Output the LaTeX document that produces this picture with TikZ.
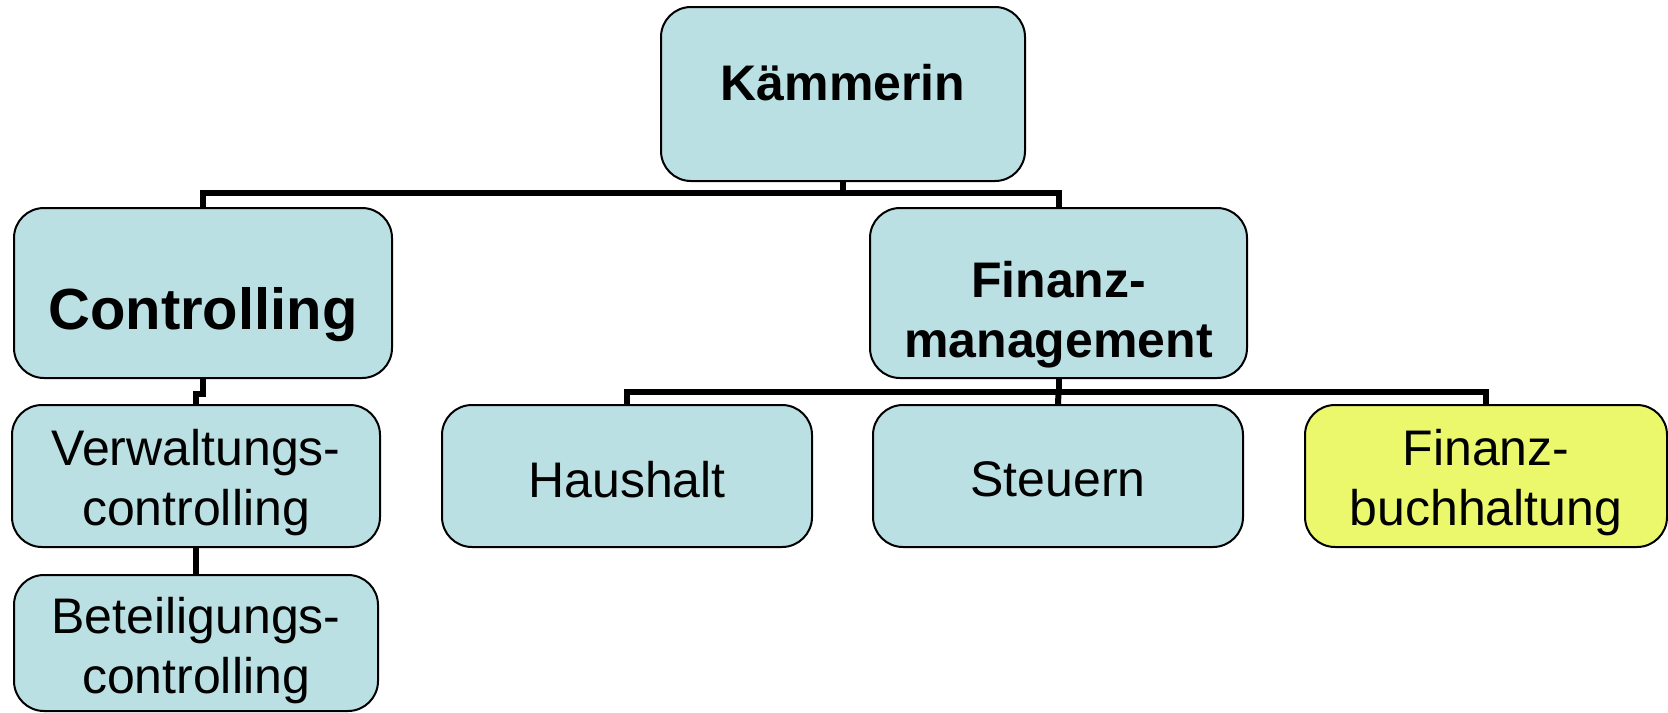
\documentclass[tikz,border=0pt]{standalone}
\usepackage{fontspec}
\setmainfont{Liberation Sans}
\definecolor{boxblue}{HTML}{BBE0E3}
\definecolor{boxyellow}{HTML}{ECF86C}
\tikzset{
  orgbox/.style={draw=black, line width=1pt, rounded corners=15pt, fill=boxblue, inner sep=0pt},
  hibox/.style={orgbox, fill=boxyellow},
  lbl/.style={inner sep=0pt, anchor=base, align=center, font=\fontsize{25pt}{30pt}\selectfont},
  lblb/.style={lbl, font=\fontsize{25pt}{30pt}\selectfont\bfseries},
  lblbig/.style={lbl, font=\fontsize{29pt}{35pt}\selectfont\bfseries},
  conn/.style={draw=black, line width=3pt}
}
\begin{document}
\begin{tikzpicture}[x=0.5pt, y=-0.5pt]
\useasboundingbox (0,0) rectangle (1668,712);
% connectors
\coordinate (bus1) at (0,193);
\coordinate (bus2) at (0,392);
% boxes
\node[orgbox, minimum width=182pt, minimum height=87pt] (k) at (843,94) {};
\node[orgbox, minimum width=189pt, minimum height=85pt] (c) at (203,293) {};
\node[orgbox, minimum width=188.5pt, minimum height=85pt] (f) at (1058.5,293) {};
\node[orgbox, minimum width=184pt, minimum height=71pt] (v) at (196,476) {};
\node[orgbox, minimum width=182pt, minimum height=68pt] (b) at (196,643) {};
\node[orgbox, minimum width=185pt, minimum height=71pt] (h) at (627,476) {};
\node[orgbox, minimum width=185pt, minimum height=71pt] (s) at (1058,476) {};
\node[hibox, minimum width=181pt, minimum height=71pt] (fb) at (1486,476) {};
% labels (anchor = baseline of last line)
\node[lblb] (kt) at (843,100) {Kämmerin};
\node[lblbig] (ct) at (203,329) {Controlling};
\node[lblb] (ft) at (1058.5,357) {Finanz-\\management};
\node[lbl] (vt) at (196,525) {Verwaltungs-\\controlling};
\node[lbl] (bt) at (196,693) {Beteiligungs-\\controlling};
\node[lbl] (ht) at (627,497) {Haushalt};
\node[lbl] (st) at (1058,496) {Steuern};
\node[lbl] (fbt) at (1486,525) {Finanz-\\buchhaltung};
% connectors
\draw[conn] (k.south) -- (k.south |- bus1);
\draw[conn] (c.north) |- (k.south |- bus1) -| (f.north);
\draw[conn] (c.south) -- ++(0,15) -| (v.north);
\draw[conn] (v.south) -- (b.north);
\draw[conn] (f.south) -- (f.south |- bus2);
\draw[conn] (h.north) |- (f.south |- bus2) -| (fb.north);
\draw[conn] (f.south |- bus2) -- (s.north);
\end{tikzpicture}
\end{document}
